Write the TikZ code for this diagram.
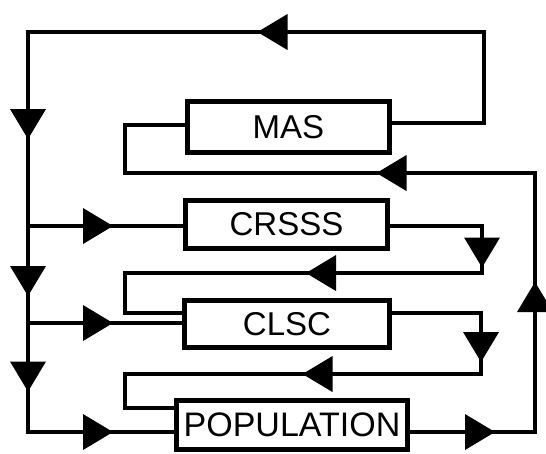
\documentclass[tikz,border=0pt]{standalone}
\usepackage{fontspec}
\setmainfont{Liberation Sans}
\begin{document}
\begin{tikzpicture}[x=1pt,y=-1pt,
  box/.style={draw,line width=5pt,inner sep=0pt,font=\fontsize{33}{36}\selectfont},
  conn/.style={line width=4pt,line join=miter,line cap=rect},
  tri/.pic={\fill (15,0) -- (-15,18) -- (-15,-18) -- cycle;}]
\useasboundingbox (0,0) rectangle (546,453);
% boxes
\node[box,minimum width=202pt,minimum height=51pt] (mas) at (288.5,127) {MAS};
\node[box,minimum width=202pt,minimum height=48pt] (crsss) at (286.5,224.5) {CRSSS};
\node[box,minimum width=205pt,minimum height=47pt] (clsc) at (287,324) {CLSC};
\node[box,minimum width=231pt,minimum height=49pt,font=\fontsize{34}{38}\selectfont] (pop) at (292,425) {POPULATION};
% corner coordinates
\coordinate (tr) at (484,32);
\coordinate (tl) at (28,32);
\coordinate (b1) at (28,226);
\coordinate (b2) at (28,323);
\coordinate (m1) at (125,173);
\coordinate (m2) at (535,173);
\coordinate (c1) at (482,273);
\coordinate (c2) at (125,273);
\coordinate (d1) at (481,374);
\coordinate (d2) at (125,374);
% connectors
\draw[conn] ([yshift=4pt]mas.east) -| (tr) -- (tl) |- ([yshift=-7pt]pop.west);
\draw[conn] (b1) -- (b1 -| crsss.west);
\draw[conn] (b2) -- (b2 -| clsc.west);
\draw[conn] ([yshift=2pt]mas.west) -| (m1) -- (m2) |- ([yshift=-7pt]pop.east);
\draw[conn] ([yshift=-1.5pt]crsss.east) -| (c1) -- (c2) |- ([yshift=11pt]clsc.west);
\draw[conn] ([yshift=11pt]clsc.east) -| (d1) -- (d2) |- ([yshift=17pt]pop.west);
% arrowheads
\pic[rotate=180] at (272.5,32) {tri};
\pic[rotate=-90] at (28,124) {tri};
\pic[rotate=-90] at (28,281) {tri};
\pic[rotate=-90] at (28,376.5) {tri};
\pic at (98,226) {tri};
\pic at (98,323) {tri};
\pic at (98,432) {tri};
\pic[rotate=180] at (391.5,173) {tri};
\pic[rotate=90] at (535,297) {tri};
\pic at (480,432) {tri};
\pic[rotate=-90] at (482,252.5) {tri};
\pic[rotate=180] at (321,273) {tri};
\pic[rotate=-90] at (481,347) {tri};
\pic[rotate=180] at (317.5,374) {tri};
\end{tikzpicture}
\end{document}
